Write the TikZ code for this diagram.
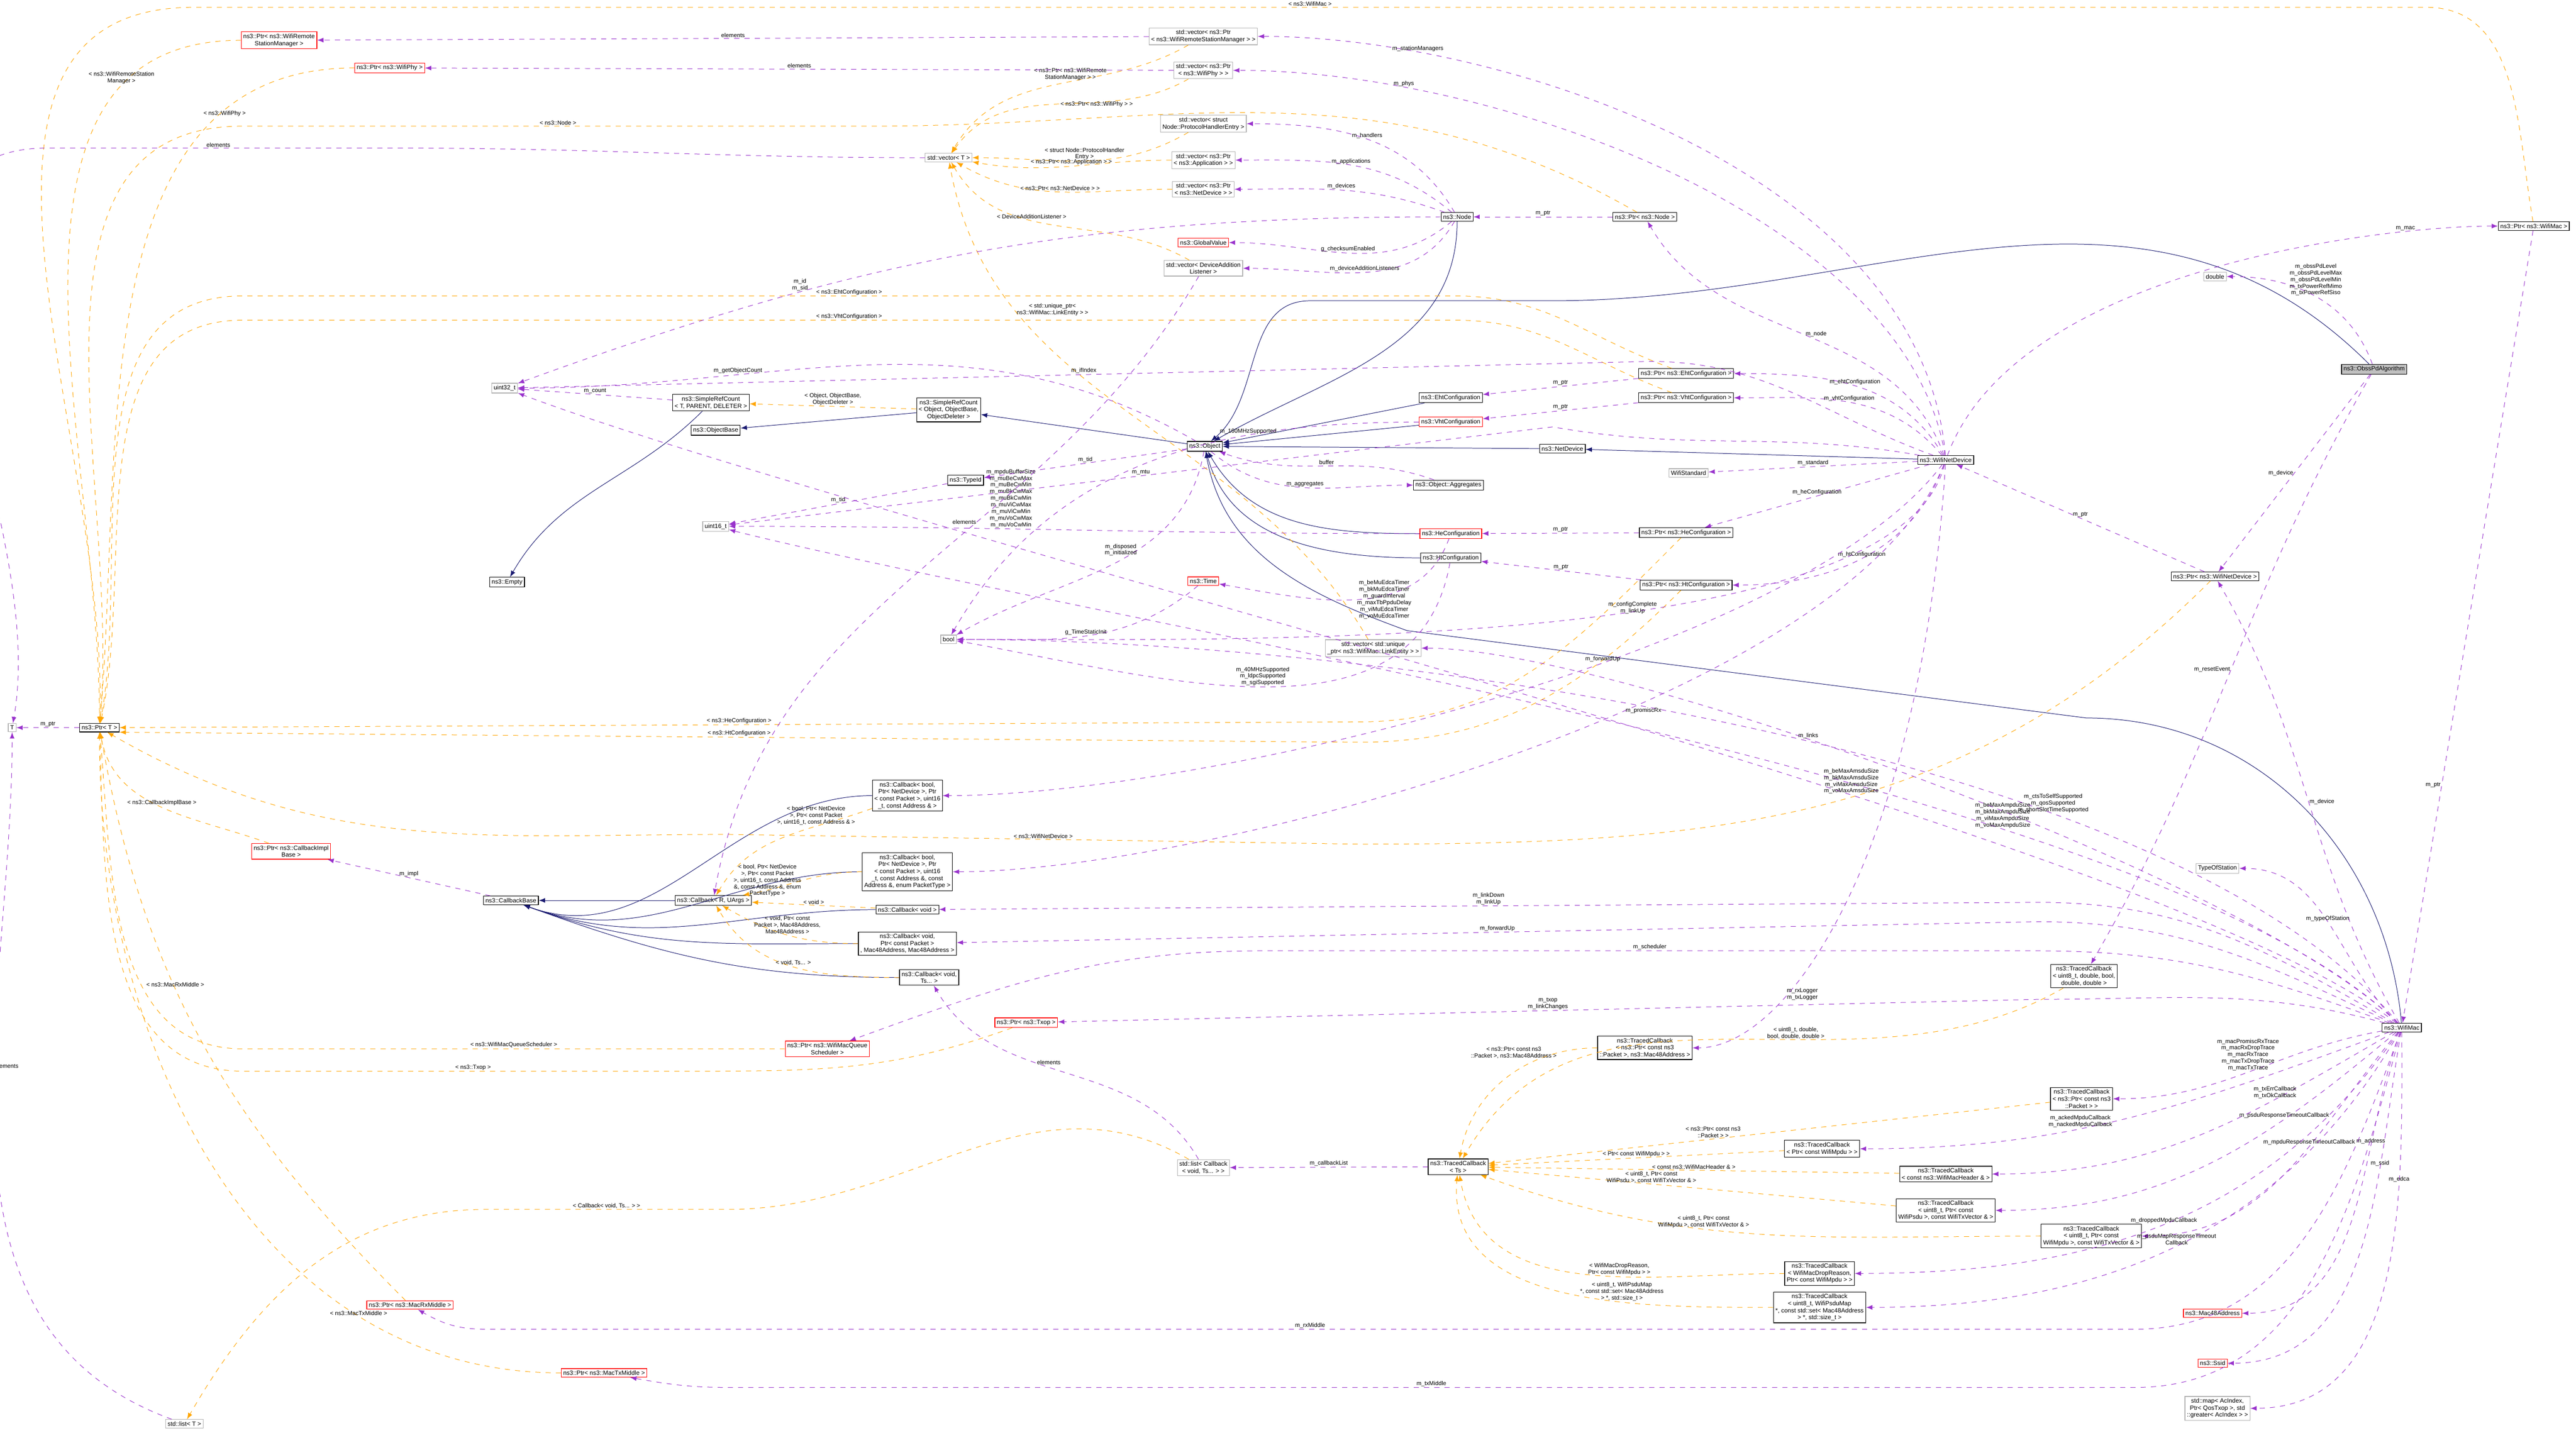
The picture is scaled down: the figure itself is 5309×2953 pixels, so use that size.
\documentclass[tikz,border=0pt]{standalone}
\usepackage{fontspec}
\setmainfont{Liberation Sans}
\usetikzlibrary{arrows,positioning}
\definecolor{inhcol}{RGB}{25,25,112}
\definecolor{usecol}{RGB}{153,50,204}
\definecolor{tplcol}{RGB}{255,165,0}
\definecolor{curfill}{RGB}{191,191,191}

\tikzset{
  cls/.style = {draw=black, line width=0.35pt, fill=white, align=center, inner sep=1.2pt,
                font=\fontsize{3.6}{4.1}\selectfont},
  redcls/.style = {cls, draw=red},
  extcls/.style = {cls, draw=gray!60},
  curcls/.style = {cls, fill=curfill},
  lbl/.style = {align=center, inner sep=0.5pt, font=\fontsize{3.4}{3.9}\selectfont},
  inh/.style = {draw=inhcol, line width=0.3pt, -latex},
  use/.style = {draw=usecol, line width=0.3pt, dashed, -latex},
  tpl/.style = {draw=tplcol, line width=0.3pt, dashed, -latex}
}

\begin{document}
\begin{tikzpicture}[x=0.01cm, y=-0.01cm]
\useasboundingbox (0,0) rectangle (5309,2953);

% nodes, left part
\node[extcls] (T) at (25,1500) {T};
\node[cls] (PtrT) at (205,1500) {ns3::Ptr< T >};
\node[redcls] (PtrRSM) at (575,83) {ns3::Ptr< ns3::WifiRemote\\StationManager >};
\node[redcls] (PtrPhy) at (803,140) {ns3::Ptr< ns3::WifiPhy >};
\node[extcls] (u32) at (1040,800) {uint32\_t};
\node[cls] (Empty) at (1045,1200) {ns3::Empty};
\node[cls] (SRCT) at (1465,830) {ns3::SimpleRefCount\\< T, PARENT, DELETER >};
\node[cls] (ObjBase) at (1475,887) {ns3::ObjectBase};
\node[extcls] (u16) at (1475,1085) {uint16\_t};
\node[redcls] (PtrCbImpl) at (600,1755) {ns3::Ptr< ns3::CallbackImpl\\Base >};
\node[cls] (CbBase) at (1053,1856) {ns3::CallbackBase};
\node[cls] (CbR) at (1470,1856) {ns3::Callback< R, UArgs >};
\node[redcls] (PtrRx) at (845,2690) {ns3::Ptr< ns3::MacRxMiddle >};
\node[redcls] (PtrTx) at (1245,2830) {ns3::Ptr< ns3::MacTxMiddle >};
\node[extcls] (ListT) at (380,2935) {std::list< T >};

% nodes, middle part
\node[extcls] (VecT) at (1955,325) {std::vector< T >};
\node[cls] (SRCObj) at (1955,845) {ns3::SimpleRefCount\\< Object, ObjectBase,\\ObjectDeleter >};
\node[cls] (TypeId) at (1990,990) {ns3::TypeId};
\node[extcls] (Bool) at (1955,1318) {bool};
\node[cls] (CbBoolA) at (1870,1640) {ns3::Callback< bool,\\Ptr< NetDevice >, Ptr\\< const Packet >, uint16\\\_t, const Address \& >};
\node[cls] (CbBoolB) at (1870,1797) {ns3::Callback< bool,\\Ptr< NetDevice >, Ptr\\< const Packet >, uint16\\\_t, const Address \&, const\\Address \&, enum PacketType >};
\node[cls] (CbVoid) at (1870,1875) {ns3::Callback< void >};
\node[cls] (CbVoidPkt) at (1870,1945) {ns3::Callback< void,\\Ptr< const Packet >\\, Mac48Address, Mac48Address >};
\node[cls] (CbVoidTs) at (1915,2015) {ns3::Callback< void,\\Ts... >};
\node[redcls] (PtrSched) at (1705,2162) {ns3::Ptr< ns3::WifiMacQueue\\Scheduler >};
\node[redcls] (PtrTxop) at (2115,2108) {ns3::Ptr< ns3::Txop >};
\node[extcls] (VecRSM) at (2480,75) {std::vector< ns3::Ptr\\< ns3::WifiRemoteStationManager > >};
\node[extcls] (VecPhy) at (2480,145) {std::vector< ns3::Ptr\\< ns3::WifiPhy > >};
\node[extcls] (VecPHE) at (2480,255) {std::vector< struct\\Node::ProtocolHandlerEntry >};
\node[extcls] (VecApp) at (2480,330) {std::vector< ns3::Ptr\\< ns3::Application > >};
\node[extcls] (VecDev) at (2480,390) {std::vector< ns3::Ptr\\< ns3::NetDevice > >};
\node[redcls] (GlobVal) at (2480,500) {ns3::GlobalValue};
\node[extcls] (VecDAL) at (2480,553) {std::vector< DeviceAddition\\Listener >};
\node[cls] (Object) at (2483,920) {ns3::Object};
\node[redcls] (Time) at (2480,1198) {ns3::Time};
\node[extcls] (VecLink) at (2830,1336) {std::vector< std::unique\\\_ptr< ns3::WifiMac::LinkEntity > >};
\node[extcls] (ListCb) at (2480,2407) {std::list< Callback\\< void, Ts... > >};
\node[cls] (TCbTs) at (3005,2405) {ns3::TracedCallback\\< Ts >};

% nodes, right part
\node[cls] (Node) at (3003,447) {ns3::Node};
\node[cls] (PtrNode) at (3390,447) {ns3::Ptr< ns3::Node >};
\node[cls] (EhtConf) at (2990,820) {ns3::EhtConfiguration};
\node[redcls] (VhtConf) at (2990,870) {ns3::VhtConfiguration};
\node[cls] (Aggr) at (2985,1000) {ns3::Object::Aggregates};
\node[redcls] (HeConf) at (2990,1100) {ns3::HeConfiguration};
\node[cls] (HtConf) at (2990,1150) {ns3::HtConfiguration};
\node[cls] (PtrEht) at (3475,770) {ns3::Ptr< ns3::EhtConfiguration >};
\node[cls] (PtrVht) at (3475,820) {ns3::Ptr< ns3::VhtConfiguration >};
\node[cls] (NetDev) at (3220,925) {ns3::NetDevice};
\node[extcls] (WStd) at (3480,975) {WifiStandard};
\node[cls] (PtrHe) at (3475,1098) {ns3::Ptr< ns3::HeConfiguration >};
\node[cls] (PtrHt) at (3475,1206) {ns3::Ptr< ns3::HtConfiguration >};
\node[cls] (WND) at (4010,948) {ns3::WifiNetDevice};
\node[extcls] (Double) at (4565,570) {double};
\node[curcls] (Obss) at (4893,761) {ns3::ObssPdAlgorithm};
\node[cls] (PtrMac) at (5222,466) {ns3::Ptr< ns3::WifiMac >};
\node[cls] (PtrWND) at (4565,1188) {ns3::Ptr< ns3::WifiNetDevice >};
\node[extcls] (TOS) at (4570,1790) {TypeOfStation};
\node[cls] (TCbU8) at (4295,2012) {ns3::TracedCallback\\< uint8\_t, double, bool,\\double, double >};
\node[cls] (WMac) at (4950,2118) {ns3::WifiMac};
\node[cls] (TCbPktMac) at (3390,2160) {ns3::TracedCallback\\< ns3::Ptr< const ns3\\::Packet >, ns3::Mac48Address >};
\node[cls] (TCbPkt) at (4290,2265) {ns3::TracedCallback\\< ns3::Ptr< const ns3\\::Packet > >};
\node[cls] (TCbMpdu) at (3755,2368) {ns3::TracedCallback\\< Ptr< const WifiMpdu > >};
\node[cls] (TCbHdr) at (4010,2420) {ns3::TracedCallback\\< const ns3::WifiMacHeader \& >};
\node[cls] (TCbPsdu) at (4010,2495) {ns3::TracedCallback\\< uint8\_t, Ptr< const\\WifiPsdu >, const WifiTxVector \& >};
\node[cls] (TCbMpduV) at (4310,2548) {ns3::TracedCallback\\< uint8\_t, Ptr< const\\WifiMpdu >, const WifiTxVector \& >};
\node[cls] (TCbDrop) at (3750,2625) {ns3::TracedCallback\\< WifiMacDropReason,\\Ptr< const WifiMpdu > >};
\node[cls] (TCbMap) at (3750,2695) {ns3::TracedCallback\\< uint8\_t, WifiPsduMap\\*, const std::set< Mac48Address\\> *, std::size\_t >};
\node[redcls] (Mac48) at (4560,2707) {ns3::Mac48Address};
\node[redcls] (Ssid) at (4560,2810) {ns3::Ssid};
\node[extcls] (MapEdca) at (4570,2903) {std::map< AcIndex,\\Ptr< QosTxop >, std\\::greater< AcIndex > >};

% inheritance
\draw[inh] (Obss) to[out=135,in=0] (3200,620) -- (2700,620) to[out=180,in=40] (Object);
\draw[inh] (WND) -- (NetDev);
\draw[inh] (NetDev) -- (Object);
\draw[inh] (Node) to[out=-90,in=30] (Object);
\draw[inh] (EhtConf) -- (Object);
\draw[inh] (VhtConf) -- (Object);
\draw[inh] (HeConf) to[out=180,in=-60] (Object);
\draw[inh] (HtConf) to[out=180,in=-75] (Object);
\draw[inh] (WMac) to[out=95,in=0] (4300,1480) -- (2900,1300) to[out=160,in=-80] (Object);
\draw[inh] (Object) -- (SRCObj);
\draw[inh] (SRCObj) -- (ObjBase);
\draw[inh] (SRCT) to[out=-135,in=60] (Empty);
\draw[inh] (CbR) -- (CbBase);
\foreach \cb in {CbBoolA,CbBoolB,CbVoid,CbVoidPkt,CbVoidTs}
  \draw[inh] (\cb) to[out=180,in=-20] (CbBase);

% template instances
\draw[tpl] (PtrRSM) to[out=180,in=90] node[lbl,pos=0.2,above]{< ns3::WifiRemoteStation\\Manager >} (PtrT);
\draw[tpl] (PtrPhy) to[out=180,in=85] node[lbl,pos=0.2,below]{< ns3::WifiPhy >} (PtrT);
\draw[tpl] (PtrNode) to[out=150,in=0] (1800,260) -- node[lbl,above]{< ns3::Node >} (500,260) to[out=180,in=85] (PtrT);
\draw[tpl] (PtrMac) to[out=100,in=0] (5000,15) -- node[lbl,above]{< ns3::WifiMac >} (400,15) to[out=180,in=88] (PtrT);
\draw[tpl] (PtrEht) to[out=160,in=0] (3000,610) -- node[lbl,above]{< ns3::EhtConfiguration >} (500,610) to[out=180,in=80] (PtrT);
\draw[tpl] (PtrVht) to[out=160,in=0] (3000,660) -- node[lbl,above]{< ns3::VhtConfiguration >} (500,660) to[out=180,in=78] (PtrT);
\draw[tpl] (PtrHe) to[out=-135,in=0] (2800,1488) -- node[lbl,above]{< ns3::HeConfiguration >} (PtrT);
\draw[tpl] (PtrHt) to[out=-135,in=0] (2800,1530) -- node[lbl,above]{< ns3::HtConfiguration >} (PtrT.south east);
\draw[tpl] (PtrWND) to[out=-135,in=0] (2800,1740) -- node[lbl,above]{< ns3::WifiNetDevice >} (1500,1720) to[out=180,in=-30] (PtrT);
\draw[tpl] (PtrCbImpl) to[out=160,in=-80] node[lbl,above]{< ns3::CallbackImplBase >} (PtrT);
\draw[tpl] (PtrSched) -- node[lbl,above]{< ns3::WifiMacQueueScheduler >} (500,2162) to[out=180,in=-85] (PtrT);
\draw[tpl] (PtrTxop) to[out=-160,in=0] (1450,2208) -- node[lbl,above]{< ns3::Txop >} (500,2208) to[out=180,in=-88] (PtrT);
\draw[tpl] (PtrRx) to[out=135,in=-80] node[lbl,pos=0.6,above]{< ns3::MacRxMiddle >} (PtrT);
\draw[tpl] (PtrTx) to[out=180,in=-90] node[lbl,pos=0.25,above]{< ns3::MacTxMiddle >} (PtrT);
\draw[tpl] (VecRSM) to[out=-150,in=60] node[lbl,pos=0.3,left]{< ns3::Ptr< ns3::WifiRemote\\StationManager > >} (VecT);
\draw[tpl] (VecPhy) to[out=-150,in=55] node[lbl,pos=0.5,right]{< ns3::Ptr< ns3::WifiPhy > >} (VecT);
\draw[tpl] (VecPHE) to[out=-150,in=0] node[lbl,above]{< struct Node::ProtocolHandler\\Entry >} (VecT);
\draw[tpl] (VecApp) to[out=180,in=-10] node[lbl,above]{< ns3::Ptr< ns3::Application > >} (VecT);
\draw[tpl] (VecDev) to[out=180,in=-30] node[lbl,above]{< ns3::Ptr< ns3::NetDevice > >} (VecT);
\draw[tpl] (VecDAL) to[out=150,in=-60] node[lbl,pos=0.6,above]{< DeviceAdditionListener >} (VecT);
\draw[tpl] (VecLink) to[out=120,in=-80] node[lbl,pos=0.75,right]{< std::unique\_ptr<\\ns3::WifiMac::LinkEntity > >} (VecT);
\draw[tpl] (SRCObj) -- node[lbl,above]{< Object, ObjectBase,\\ObjectDeleter >} (SRCT);
\draw[tpl] (CbBoolA) to[out=-160,in=60] node[lbl,pos=0.3,above]{< bool, Ptr< NetDevice\\>, Ptr< const Packet\\>, uint16\_t, const Address \& >} (CbR);
\draw[tpl] (CbBoolB) to[out=180,in=10] node[lbl,left]{< bool, Ptr< NetDevice\\>, Ptr< const Packet\\>, uint16\_t, const Address\\\&, const Address \&, enum\\PacketType >} (CbR);
\draw[tpl] (CbVoid) -- node[lbl,above]{< void >} (CbR);
\draw[tpl] (CbVoidPkt) to[out=180,in=-30] node[lbl,above]{< void, Ptr< const\\Packet >, Mac48Address,\\Mac48Address >} (CbR);
\draw[tpl] (CbVoidTs) to[out=180,in=-60] node[lbl,above]{< void, Ts... >} (CbR);
\draw[tpl] (TCbPktMac) to[out=180,in=80] node[lbl,pos=0.2,left]{< ns3::Ptr< const ns3\\::Packet >, ns3::Mac48Address >} (TCbTs);
\draw[tpl] (TCbU8) to[out=-150,in=60] node[lbl,pos=0.4,above]{< uint8\_t, double,\\bool, double, double >} (TCbTs);
\draw[tpl] (TCbPkt) -- node[lbl,pos=0.6,above]{< ns3::Ptr< const ns3\\::Packet > >} (TCbTs);
\draw[tpl] (TCbMpdu) -- node[lbl,above]{< Ptr< const WifiMpdu > >} (TCbTs);
\draw[tpl] (TCbHdr) -- node[lbl,above]{< const ns3::WifiMacHeader \& >} (TCbTs);
\draw[tpl] (TCbPsdu) -- node[lbl,pos=0.6,above]{< uint8\_t, Ptr< const\\WifiPsdu >, const WifiTxVector \& >} (TCbTs);
\draw[tpl] (TCbMpduV) to[out=180,in=-20] node[lbl,pos=0.6,above]{< uint8\_t, Ptr< const\\WifiMpdu >, const WifiTxVector \& >} (TCbTs);
\draw[tpl] (TCbDrop) to[out=180,in=-80] node[lbl,pos=0.4,above]{< WifiMacDropReason,\\Ptr< const WifiMpdu > >} (TCbTs);
\draw[tpl] (TCbMap) to[out=180,in=-95] node[lbl,pos=0.35,above]{< uint8\_t, WifiPsduMap\\*, const std::set< Mac48Address\\> *, std::size\_t >} (TCbTs);
\draw[tpl] (ListCb) to[out=150,in=0] (1500,2493) -- node[lbl,above]{< Callback< void, Ts... > >} (1000,2493) to[out=180,in=60] (ListT);

% members
\draw[use] (PtrT) -- node[lbl,above]{m\_ptr} (T);
\draw[use] (VecT) to[out=180,in=0] (800,305) -- node[lbl,above]{elements} (100,305) to[out=180,in=80] (T);
\draw[use] (ListT) to[out=160,in=-90] node[lbl,pos=0.6,right]{elements} (T);
\draw[use] (VecRSM) -- node[lbl,above]{elements} (PtrRSM);
\draw[use] (VecPhy) -- node[lbl,above]{elements} (PtrPhy);
\draw[use] (Node) to[out=120,in=0] node[lbl,above]{m\_handlers} (VecPHE);
\draw[use] (Node) to[out=140,in=0] node[lbl,above]{m\_applications} (VecApp);
\draw[use] (Node) to[out=160,in=0] node[lbl,above]{m\_devices} (VecDev);
\draw[use] (Node) to[out=-140,in=0] node[lbl,above]{g\_checksumEnabled} (GlobVal);
\draw[use] (Node) to[out=-120,in=0] node[lbl,above]{m\_deviceAdditionListeners} (VecDAL);
\draw[use] (Node) to[out=180,in=20] node[lbl,pos=0.7,above]{m\_id\\m\_sid} (u32);
\draw[use] (PtrNode) -- node[lbl,above]{m\_ptr} (Node);
\draw[use] (SRCT) -- node[lbl,above]{m\_count} (u32);
\draw[use] (Object) to[out=150,in=0] node[lbl,pos=0.7,above]{m\_getObjectCount} (u32);
\draw[use] (WND) to[out=160,in=0] (3400,745) -- node[lbl,above]{m\_ifIndex} (u32);
\draw[use] (Object) -- node[lbl,above]{m\_tid} (TypeId);
\draw[use] (TypeId) -- node[lbl,above]{m\_tid} (u16);
\draw[use] (Aggr) to[out=160,in=-20] node[lbl,above]{buffer} (Object);
\draw[use] (Object) to[out=-40,in=180] node[lbl,above]{m\_aggregates} (Aggr);
\draw[use] (HeConf) to[out=180,in=0] node[lbl,pos=0.6,above]{m\_mpduBufferSize\\m\_muBeCwMax\\m\_muBeCwMin\\m\_muBkCwMax\\m\_muBkCwMin\\m\_muViCwMax\\m\_muViCwMin\\m\_muVoCwMax\\m\_muVoCwMin} (u16);
\draw[use] (HeConf) to[out=-110,in=-10] node[lbl,right]{m\_beMuEdcaTimer\\m\_bkMuEdcaTimer\\m\_guardInterval\\m\_maxTbPpduDelay\\m\_viMuEdcaTimer\\m\_voMuEdcaTimer} (Time);
\draw[use] (Object) to[out=-100,in=30] node[lbl,pos=0.4,left]{m\_disposed\\m\_initialized} (Bool);
\draw[use] (Time) to[out=-140,in=0] node[lbl,above]{g\_TimeStaticInit} (Bool);
\draw[use] (HtConf) to[out=-100,in=-10] node[lbl,pos=0.5,above]{m\_40MHzSupported\\m\_ldpcSupported\\m\_sgiSupported} (Bool);
\draw[use] (VhtConf) to[out=180,in=60] node[lbl,pos=0.3,above]{m\_160MHzSupported} (Bool);
\draw[use] (WND) to[out=170,in=-10] (3200,880) -- node[lbl,above]{m\_mtu} (u16);
\draw[use] (WND) .. controls +(-100,400) and +(600,0) .. node[lbl,pos=0.4,left]{m\_configComplete\\m\_linkUp} (Bool);
\draw[use] (WMac) .. controls +(-300,-300) and +(500,0) .. node[lbl,pos=0.6,above]{m\_links} (VecLink);
\draw[use] (WMac) .. controls +(-500,-600) and +(800,0) .. node[lbl,pos=0.3,above]{m\_ctsToSelfSupported\\m\_qosSupported\\m\_shortSlotTimeSupported} (Bool);
\draw[use] (WMac) .. controls +(-500,-500) and +(800,200) .. node[lbl,pos=0.3,above]{m\_beMaxAmpduSize\\m\_bkMaxAmpduSize\\m\_viMaxAmpduSize\\m\_voMaxAmpduSize} (u16);
\draw[use] (WMac) .. controls +(-500,-400) and +(800,300) .. node[lbl,pos=0.35,above]{m\_beMaxAmsduSize\\m\_bkMaxAmsduSize\\m\_viMaxAmsduSize\\m\_voMaxAmsduSize} (u32);
\draw[use] (PtrEht) -- node[lbl,above]{m\_ptr} (EhtConf);
\draw[use] (PtrVht) -- node[lbl,above]{m\_ptr} (VhtConf);
\draw[use] (PtrHe) -- node[lbl,above]{m\_ptr} (HeConf);
\draw[use] (PtrHt) -- node[lbl,above]{m\_ptr} (HtConf);
\draw[use] (WND) to[out=120,in=0] node[lbl,above]{m\_ehtConfiguration} (PtrEht);
\draw[use] (WND) to[out=130,in=0] node[lbl,above]{m\_vhtConfiguration} (PtrVht);
\draw[use] (WND) -- node[lbl,above]{m\_standard} (WStd);
\draw[use] (WND) -- node[lbl,above]{m\_heConfiguration} (PtrHe);
\draw[use] (WND) to[out=-110,in=0] node[lbl,above]{m\_htConfiguration} (PtrHt);
\draw[use] (WND) to[out=110,in=-60] node[lbl,right]{m\_node} (PtrNode);
\draw[use] (WND) .. controls +(-50,-600) and +(600,0) .. node[lbl,pos=0.8,above]{m\_stationManagers} (VecRSM);
\draw[use] (WND) .. controls +(-80,-500) and +(600,0) .. node[lbl,pos=0.8,above]{m\_phys} (VecPhy);
\draw[use] (WND) .. controls +(150,-400) and +(-300,0) .. node[lbl,pos=0.8,above]{m\_mac} (PtrMac);
\draw[use] (WND) .. controls +(-300,400) and +(600,0) .. node[lbl,pos=0.4,above]{m\_forwardUp} (CbBoolA);
\draw[use] (WND) .. controls +(-200,500) and +(600,0) .. node[lbl,pos=0.4,right]{m\_promiscRx} (CbBoolB);
\draw[use] (WND) .. controls +(-50,800) and +(300,0) .. node[lbl,pos=0.7,right]{m\_rxLogger\\m\_txLogger} (TCbPktMac);
\draw[use] (Obss) to[out=110,in=0] node[lbl,above]{m\_obssPdLevel\\m\_obssPdLevelMax\\m\_obssPdLevelMin\\m\_txPowerRefMimo\\m\_txPowerRefSiso} (Double);
\draw[use] (Obss) -- node[lbl,left]{m\_device} (PtrWND);
\draw[use] (Obss) to[out=-120,in=60] node[lbl,pos=0.5,left]{m\_resetEvent} (TCbU8);
\draw[use] (PtrWND) -- node[lbl,above]{m\_ptr} (WND);
\draw[use] (PtrMac) -- node[lbl,pos=0.7,left]{m\_ptr} (WMac);
\draw[use] (WMac) to[out=120,in=-60] node[lbl,right]{m\_device} (PtrWND);
\draw[use] (WMac) to[out=135,in=0] node[lbl,above]{m\_typeOfStation} (TOS);
\draw[use] (WMac) to[out=150,in=0] (4200,1860) -- node[lbl,above]{m\_linkDown\\m\_linkUp} (CbVoid);
\draw[use] (WMac) to[out=155,in=0] (4200,1900) -- node[lbl,above]{m\_forwardUp} (CbVoidPkt);
\draw[use] (WMac) to[out=160,in=0] (4200,1960) -- node[lbl,above]{m\_scheduler} (2600,1960) to[out=180,in=20] (PtrSched);
\draw[use] (WMac) to[out=165,in=0] (4200,2060) -- node[lbl,pos=0.5,above]{m\_txop\\m\_linkChanges} (PtrTxop);
\draw[use] (WMac) to[out=190,in=0] node[lbl,pos=0.5,above]{m\_macPromiscRxTrace\\m\_macRxDropTrace\\m\_macRxTrace\\m\_macTxDropTrace\\m\_macTxTrace} (TCbPkt);
\draw[use] (WMac) to[out=200,in=0] node[lbl,pos=0.6,above]{m\_ackedMpduCallback\\m\_nackedMpduCallback} (TCbMpdu);
\draw[use] (WMac) to[out=210,in=0] node[lbl,pos=0.3,above]{m\_txErrCallback\\m\_txOkCallback} (TCbHdr);
\draw[use] (WMac) to[out=220,in=0] node[lbl,pos=0.3,above]{m\_psduResponseTimeoutCallback} (TCbPsdu);
\draw[use] (WMac) to[out=230,in=0] node[lbl,pos=0.4,above]{m\_mpduResponseTimeoutCallback} (TCbMpduV);
\draw[use] (WMac) to[out=235,in=0] node[lbl,pos=0.5,above]{m\_droppedMpduCallback} (TCbDrop);
\draw[use] (WMac) to[out=240,in=0] node[lbl,pos=0.5,above]{m\_psduMapResponseTimeout\\Callback} (TCbMap);
\draw[use] (WMac) to[out=250,in=0] node[lbl,pos=0.3,above]{m\_address} (Mac48);
\draw[use] (WMac) to[out=260,in=0] node[lbl,pos=0.3,above]{m\_ssid} (Ssid);
\draw[use] (WMac) to[out=270,in=0] node[lbl,pos=0.3,above]{m\_edca} (MapEdca);
\draw[use] (WMac) to[out=250,in=0] (4400,2740) -- node[lbl,above]{m\_rxMiddle} (1000,2740) to[out=180,in=-30] (PtrRx);
\draw[use] (WMac) to[out=255,in=0] (4400,2860) -- node[lbl,above]{m\_txMiddle} (1500,2860) to[out=180,in=-10] (PtrTx);
\draw[use] (TCbTs) -- node[lbl,above]{m\_callbackList} (ListCb);
\draw[use] (ListCb) to[out=120,in=-60] node[lbl,pos=0.6,right]{elements} (CbVoidTs);
\draw[use] (VecDAL) to[out=-120,in=80] node[lbl,pos=0.4,left]{elements} (CbR);
\draw[use] (CbBase) -- node[lbl,above]{m\_impl} (PtrCbImpl);
\end{tikzpicture}
\end{document}
